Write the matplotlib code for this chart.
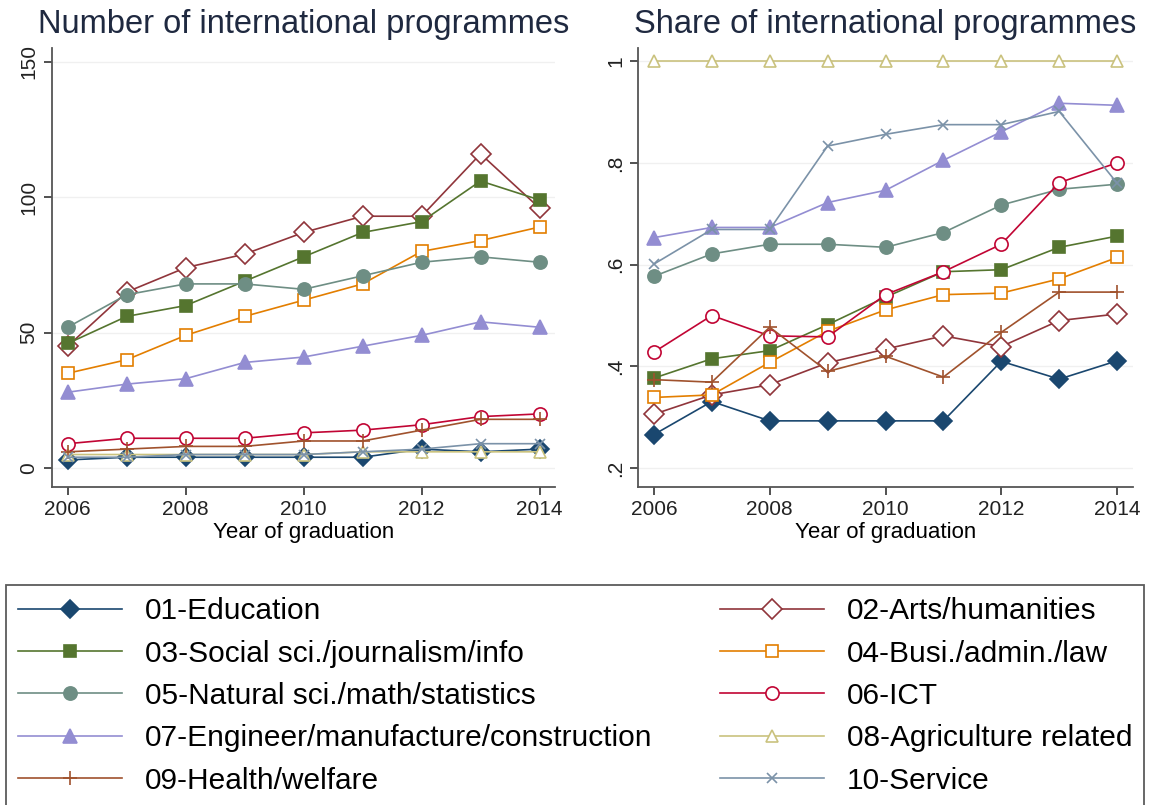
import matplotlib

matplotlib.use("Agg")
import matplotlib.pyplot as plt
from matplotlib.lines import Line2D

plt.rcParams["font.family"] = ["Liberation Sans", "DejaVu Sans"]

TITLE = "#1f2940"
AXIS = "#555555"
GRID = "#f0f0f0"

years = [2006, 2007, 2008, 2009, 2010, 2011, 2012, 2013, 2014]

labels = [
    "01-Education",
    "02-Arts/humanities",
    "03-Social sci./journalism/info",
    "04-Busi./admin./law",
    "05-Natural sci./math/statistics",
    "06-ICT",
    "07-Engineer/manufacture/construction",
    "08-Agriculture related",
    "09-Health/welfare",
    "10-Service",
]

# number of international programmes
n_education = [3, 4, 4, 4, 4, 4, 7, 6, 7]
n_arts = [45, 65, 74, 79, 87, 93, 93, 116, 96]
n_social = [46, 56, 60, 69, 78, 87, 91, 106, 99]
n_busi = [35, 40, 49, 56, 62, 68, 80, 84, 89]
n_natural = [52, 64, 68, 68, 66, 71, 76, 78, 76]
n_ict = [9, 11, 11, 11, 13, 14, 16, 19, 20]
n_engineer = [28, 31, 33, 39, 41, 45, 49, 54, 52]
n_agri = [5, 5, 5, 5, 5, 6, 6, 6, 6]
n_health = [6, 7, 8, 8, 10, 10, 14, 18, 18]
n_service = [4, 4, 5, 5, 5, 6, 7, 9, 9]

# share of international programmes
s_education = [0.266, 0.331, 0.293, 0.293, 0.293, 0.293, 0.410, 0.375, 0.411]
s_arts = [0.306, 0.344, 0.364, 0.407, 0.434, 0.460, 0.439, 0.490, 0.503]
s_social = [0.377, 0.415, 0.431, 0.482, 0.536, 0.586, 0.590, 0.634, 0.656]
s_busi = [0.339, 0.344, 0.408, 0.469, 0.511, 0.541, 0.544, 0.572, 0.614]
s_natural = [0.577, 0.621, 0.640, 0.640, 0.634, 0.663, 0.717, 0.748, 0.758]
s_ict = [0.428, 0.500, 0.460, 0.458, 0.541, 0.586, 0.640, 0.761, 0.800]
s_engineer = [0.653, 0.673, 0.673, 0.722, 0.746, 0.805, 0.861, 0.917, 0.913]
s_agri = [1, 1, 1, 1, 1, 1, 1, 1, 1]
s_health = [0.374, 0.369, 0.477, 0.390, 0.420, 0.379, 0.467, 0.546, 0.546]
s_service = [0.601, 0.669, 0.669, 0.833, 0.856, 0.875, 0.875, 0.901, 0.760]

counts = [n_education, n_arts, n_social, n_busi, n_natural,
          n_ict, n_engineer, n_agri, n_health, n_service]
shares = [s_education, s_arts, s_social, s_busi, s_natural,
          s_ict, s_engineer, s_agri, s_health, s_service]

# stata s2color palette with its marker cycle
colors = ["#1a476f", "#90353b", "#55752f", "#e37e00", "#6e8e84",
          "#c10534", "#938dd2", "#cac27e", "#a0522d", "#7b92a8"]
markers = ["D", "D", "s", "s", "o", "o", "^", "^", "+", "x"]
filled = [True, False, True, False, True, False, True, False, True, True]
sizes = [9.5, 10, 9, 9, 9.5, 9.5, 9.5, 9, 10, 6.5]


def style(i):
    kw = dict(color=colors[i], marker=markers[i], markersize=sizes[i],
              linewidth=1.2, markeredgewidth=1.2, markeredgecolor=colors[i])
    kw["markerfacecolor"] = colors[i] if filled[i] else "white"
    return kw


def setup_axis(ax, title, ylim, yticks, yticklabels):
    ax.set_title(title, fontsize=23.5, color=TITLE, pad=11)
    ax.set_xlim(2005.73, 2014.27)
    ax.set_ylim(*ylim)
    ax.set_xticks([2006, 2008, 2010, 2012, 2014])
    ax.set_yticks(yticks)
    ax.set_yticklabels(yticklabels, rotation=90, va="center")
    ax.tick_params(labelsize=15, colors="#222222", length=6, width=1.1)
    ax.set_xlabel("Year of graduation", fontsize=16, labelpad=2)
    for side in ("top", "right"):
        ax.spines[side].set_visible(False)
    for side in ("left", "bottom"):
        ax.spines[side].set_color(AXIS)
        ax.spines[side].set_linewidth(1.3)
    ax.grid(axis="y", color=GRID, linewidth=1.0)
    ax.set_axisbelow(True)


fig = plt.figure(figsize=(11.5, 8.05), dpi=100)
ax_n = fig.add_axes([0.045, 0.395, 0.438, 0.545])
ax_s = fig.add_axes([0.555, 0.395, 0.43, 0.545])

for i in range(len(labels)):
    ax_n.plot(years, counts[i], **style(i))
    ax_s.plot(years, shares[i], **style(i))

setup_axis(ax_n, "Number of international programmes", (-7, 155),
           [0, 50, 100, 150], ["0", "50", "100", "150"])
setup_axis(ax_s, "Share of international programmes", (0.163, 1.025),
           [0.2, 0.4, 0.6, 0.8, 1.0], [".2", ".4", ".6", ".8", "1"])

# two columns: odd codes left, even codes right
order = [0, 2, 4, 6, 8, 1, 3, 5, 7, 9]
handles = [Line2D([], [], **style(i)) for i in order]
leg = fig.legend(
    handles,
    [labels[i] for i in order],
    ncol=2,
    loc="upper left",
    bbox_to_anchor=(0.005, 0.0, 0.99, 0.273),
    mode="expand",
    borderaxespad=0,
    fontsize=21.5,
    handlelength=3.5,
    handletextpad=0.75,
    labelspacing=0.48,
    borderpad=0.4,
    fancybox=False,
    frameon=True,
)
leg.get_frame().set_edgecolor("#333333")
leg.get_frame().set_linewidth(1.3)

fig.savefig("out.png", dpi=100, facecolor="white")
